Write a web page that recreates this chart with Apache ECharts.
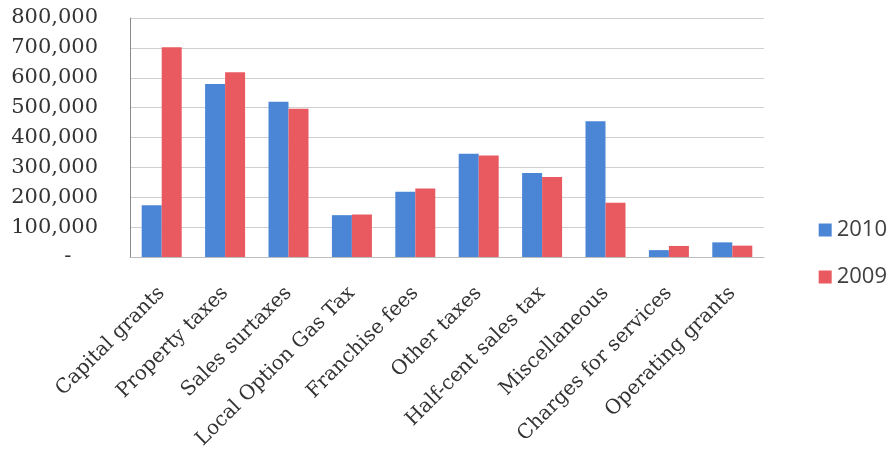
<!DOCTYPE html>
<html>
<head>
<meta charset="utf-8">
<script src="https://cdn.jsdelivr.net/npm/echarts@6/dist/echarts.min.js"></script>
<style>
  html, body { margin: 0; padding: 0; background: #ffffff; }
  #chart { width: 894px; height: 469px; }
</style>
</head>
<body>
<div id="chart"></div>
<script>
// Revenue sources by category, two fiscal years
const categories = [
  'Capital grants', 'Property taxes', 'Sales surtaxes', 'Local Option Gas Tax',
  'Franchise fees', 'Other taxes', 'Half-cent sales tax', 'Miscellaneous',
  'Charges for services', 'Operating grants'
];
const values2010 = [173000, 579000, 520000, 140000, 218000, 346000, 281000, 454000, 23000, 49000];
const values2009 = [702000, 618000, 496000, 142000, 229000, 340000, 268000, 182000, 37000, 38000];
const yTicks = { min: 0, max: 800000, interval: 100000 };

const chart = echarts.init(document.getElementById('chart'), null, { renderer: 'canvas' });

const serif = 'DejaVu Serif';

chart.setOption({
  animation: false,
  backgroundColor: '#ffffff',
  grid: { left: 130, right: 130, top: 18, bottom: 212, containLabel: false },
  legend: {
    orient: 'vertical',
    right: 2,
    top: 214,
    itemWidth: 13,
    itemHeight: 13,
    itemGap: 25,
    itemStyle: { borderWidth: 0 },
    icon: 'rect',
    textStyle: { fontFamily: 'Open Sans', fontSize: 22, color: '#404040' },
    data: ['2010', '2009']
  },
  xAxis: {
    type: 'category',
    data: categories,
    axisLine: { show: true, lineStyle: { color: '#bdbdbd', width: 1 } },
    axisTick: { show: false },
    axisLabel: {
      interval: 0,
      rotate: 45,
      margin: 33,
      fontFamily: serif,
      fontSize: 20,
      color: '#333333'
    }
  },
  yAxis: {
    type: 'value',
    min: yTicks.min,
    max: yTicks.max,
    interval: yTicks.interval,
    axisLine: { show: true, lineStyle: { color: '#8a8a8a', width: 1 } },
    axisTick: { show: false },
    splitLine: { show: true, lineStyle: { color: '#cfcfcf', width: 1 } },
    axisLabel: {
      margin: 32,
      fontFamily: serif,
      fontSize: 21,
      color: '#333333',
      formatter: function (v) {
        if (v === 0) return '-    ';
        return v.toString().replace(/\B(?=(\d{3})+(?!\d))/g, ',');
      }
    }
  },
  series: [
    {
      name: '2010',
      type: 'bar',
      data: values2010,
      barWidth: 20,
      barGap: '0%',
      itemStyle: { color: '#4a85d6' }
    },
    {
      name: '2009',
      type: 'bar',
      data: values2009,
      barWidth: 20,
      barGap: '0%',
      itemStyle: { color: '#e85a60' }
    }
  ]
});
</script>
</body>
</html>
